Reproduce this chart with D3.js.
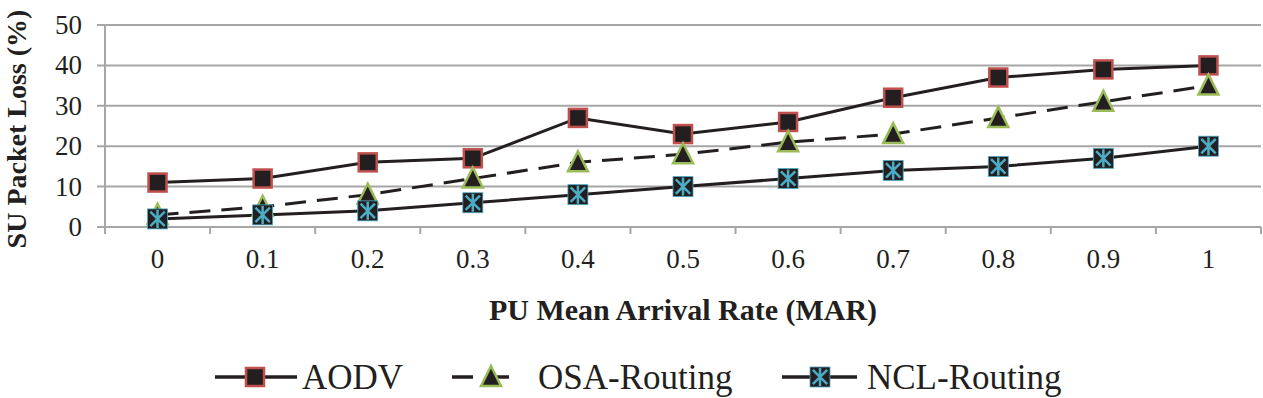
<!DOCTYPE html>
<html>
<head>
<meta charset="utf-8">
<script src="https://cdn.jsdelivr.net/npm/d3@7"></script>
<style>
  body { margin: 0; background: #fff; }
  svg { display: block; }
  text { font-family: "Liberation Serif", "Times New Roman", "DejaVu Serif", serif; }
</style>
</head>
<body>
<div id="chart"></div>
<script>
// дані з графіка
const rates = ["0", "0.1", "0.2", "0.3", "0.4", "0.5", "0.6", "0.7", "0.8", "0.9", "1"];
const aodv = [11, 12, 16, 17, 27, 23, 26, 32, 37, 39, 40];
const osaRouting = [3, 5, 8, 12, 16, 18, 21, 23, 27, 31, 35];
const nclRouting = [2, 3, 4, 6, 8, 10, 12, 14, 15, 17, 20];
const yTicks = [0, 10, 20, 30, 40, 50];

const series = [
  { name: "AODV", values: aodv, marker: "square", dash: null },
  { name: "OSA-Routing", values: osaRouting, marker: "triangle", dash: "21,11" },
  { name: "NCL-Routing", values: nclRouting, marker: "star", dash: null }
];

const W = 1263, H = 398;
const m = { left: 105, right: 2, top: 25, bottom: 171 };
const ink = "#231f20";

const svg = d3.select("#chart").append("svg")
  .attr("width", W).attr("height", H);

const x = d3.scaleBand().domain(rates).range([m.left, W - m.right]);
const y = d3.scaleLinear().domain([0, 50]).range([H - m.bottom, m.top]);
const cx = d => x(d) + x.bandwidth() / 2;

// сітка
svg.append("g").selectAll("line")
  .data(yTicks)
  .join("line")
  .attr("x1", m.left - 8).attr("x2", W - m.right)
  .attr("y1", d => y(d)).attr("y2", d => y(d))
  .attr("stroke", "#a6a6a6").attr("stroke-width", 2);

// вертикальна вісь
svg.append("line")
  .attr("x1", m.left).attr("x2", m.left)
  .attr("y1", y(50)).attr("y2", y(0))
  .attr("stroke", "#a6a6a6").attr("stroke-width", 2);

// засічки осі X
const xTickPos = rates.map(r => x(r)).concat([W - m.right]);
svg.append("g").selectAll("line")
  .data(xTickPos)
  .join("line")
  .attr("x1", d => d).attr("x2", d => d)
  .attr("y1", y(0)).attr("y2", y(0) + 7)
  .attr("stroke", "#a6a6a6").attr("stroke-width", 2);

// підписи Y
svg.append("g").selectAll("text")
  .data(yTicks)
  .join("text")
  .attr("x", 82).attr("y", d => y(d) + 9)
  .attr("text-anchor", "end")
  .style("font-size", "27px").attr("fill", ink)
  .text(d => d);

// підписи X
svg.append("g").selectAll("text")
  .data(rates)
  .join("text")
  .attr("x", d => cx(d)).attr("y", 268)
  .attr("text-anchor", "middle")
  .style("font-size", "27px").attr("fill", ink)
  .text(d => d);

// назви осей
svg.append("text")
  .attr("transform", `translate(26, ${(y(0) + y(50)) / 2 + 3}) rotate(-90)`)
  .attr("text-anchor", "middle")
  .style("font-size", "28px").style("font-weight", "bold").attr("fill", ink)
  .text("SU Packet Loss (%)");

svg.append("text")
  .attr("x", (m.left + W - m.right) / 2).attr("y", 320)
  .attr("text-anchor", "middle")
  .style("font-size", "30px").style("font-weight", "bold").attr("fill", ink)
  .text("PU Mean Arrival Rate (MAR)");

// маркери
function drawMarker(g, type, px, py) {
  if (type === "square") {
    g.append("rect")
      .attr("x", px - 9).attr("y", py - 9).attr("width", 18).attr("height", 18)
      .attr("fill", ink).attr("stroke", "#c0504d").attr("stroke-width", 2.5);
  } else if (type === "triangle") {
    const s = 10;
    g.append("path")
      .attr("d", `M${px},${py - s - 1} L${px + s},${py + s - 1} L${px - s},${py + s - 1} Z`)
      .attr("fill", ink).attr("stroke", "#9bbb59").attr("stroke-width", 2.5);
  } else {
    g.append("rect")
      .attr("x", px - 10).attr("y", py - 10).attr("width", 20).attr("height", 20)
      .attr("fill", ink).attr("stroke", "#4bacc6").attr("stroke-width", 0.8);
    const r = 9;
    g.append("path")
      .attr("d", `M${px - r * 0.8},${py - r * 0.8}L${px + r * 0.8},${py + r * 0.8}` +
                 `M${px + r * 0.8},${py - r * 0.8}L${px - r * 0.8},${py + r * 0.8}` +
                 `M${px},${py - r}L${px},${py + r}`)
      .attr("stroke", "#4bacc6").attr("stroke-width", 2.5);
  }
}

const line = d3.line().x((d, i) => cx(rates[i])).y(d => y(d));

series.forEach(s => {
  svg.append("path")
    .datum(s.values)
    .attr("d", line)
    .attr("fill", "none")
    .attr("stroke", ink).attr("stroke-width", 3)
    .attr("stroke-dasharray", s.dash);
});

series.forEach(s => {
  const g = svg.append("g");
  s.values.forEach((v, i) => drawMarker(g, s.marker, cx(rates[i]), y(v)));
});

// легенда: [початок лінії, кінець лінії, маркер, текст]
const legendPos = [[215, 297, 255, 302], [452, 512, 491, 538], [782, 857, 820, 867]];
const legendY = 377;
series.forEach((s, i) => {
  const g = svg.append("g");
  const [x1, x2, mx, tx] = legendPos[i];
  g.append("line")
    .attr("x1", x1).attr("x2", x2)
    .attr("y1", legendY).attr("y2", legendY)
    .attr("stroke", ink).attr("stroke-width", 3.5)
    .attr("stroke-dasharray", s.dash ? "21,15" : null);
  drawMarker(g, s.marker, mx, legendY);
  g.append("text")
    .attr("x", tx).attr("y", 389)
    .style("font-size", "35px").attr("fill", ink)
    .text(s.name);
});
</script>
</body>
</html>
